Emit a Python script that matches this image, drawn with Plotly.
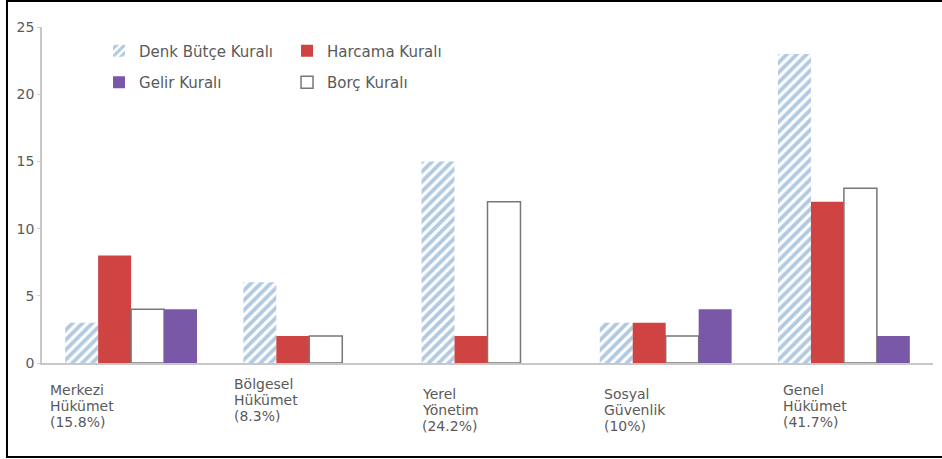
import plotly.graph_objects as go

categories = ["Merkezi", "Bölgesel", "Yerel", "Sosyal", "Genel"]
category_labels = [
    ["Merkezi", "Hükümet", "(15.8%)"],
    ["Bölgesel", "Hükümet", "(8.3%)"],
    ["Yerel", "Yönetim", "(24.2%)"],
    ["Sosyal", "Güvenlik", "(10%)"],
    ["Genel", "Hükümet", "(41.7%)"],
]
denk_butce = [3, 6, 15, 3, 23]
harcama = [8, 2, 2, 3, 12]
borc = [4, 2, 12, 2, 13]
gelir = [4, 0, 0, 4, 2]
y_ticks = [0, 5, 10, 15, 20, 25]

# label placement (layout only)
label_xshift = [-81, -75, -66, -62, -61]
label_yshift = [0, 6, -4, -4, 0]
LINE_GAP = 16

FONT = "DejaVu Sans"
TXT = "#5a5a5a"

fig = go.Figure()
fig.add_trace(go.Bar(
    x=categories, y=denk_butce, name="Denk Bütçe Kuralı",
    marker=dict(color="white", line=dict(width=0),
                pattern=dict(shape="/", fgcolor="#6496c6", bgcolor="white",
                             size=7, solidity=0.55, fillmode="overlay")),
    legend="legend", legendgroup="a", legendrank=1,
))
fig.add_trace(go.Bar(
    x=categories, y=harcama, name="Harcama Kuralı",
    marker=dict(color="#cf4343", line=dict(width=0)),
    legend="legend2", legendgroup="b", legendrank=1,
))
fig.add_trace(go.Bar(
    x=categories, y=borc, name="Borç Kuralı",
    marker=dict(color="white", line=dict(color="#777777", width=1.5)),
    legend="legend2", legendgroup="d", legendrank=2,
))
fig.add_trace(go.Bar(
    x=categories, y=gelir, name="Gelir Kuralı",
    marker=dict(color="#7a58a8", line=dict(width=0)),
    legend="legend", legendgroup="c", legendrank=2,
))

annotations = []
for cat, lines, xs, ys in zip(categories, category_labels, label_xshift, label_yshift):
    for i, line in enumerate(lines):
        annotations.append(dict(
            x=cat, xref="x", y=0, yref="paper", yanchor="middle",
            yshift=-27 + ys - LINE_GAP * i,
            xanchor="left", xshift=xs - 2, align="left", showarrow=False,
            text=line, font=dict(family=FONT, size=14, color=TXT),
        ))

legend_common = dict(
    orientation="v", yanchor="top", xanchor="left",
    font=dict(family=FONT, size=15, color=TXT), bgcolor="rgba(0,0,0,0)",
    tracegroupgap=9, traceorder="grouped",
)

fig.update_layout(
    width=942, height=459,
    margin=dict(l=42, r=9, t=27, b=96),
    paper_bgcolor="white", plot_bgcolor="white",
    barmode="group", bargap=0.26, bargroupgap=0,
    font=dict(family=FONT, size=14, color=TXT),
    showlegend=True,
    legend=dict(x=0.064, y=0.978, **legend_common),
    legend2=dict(x=0.275, y=0.978, **legend_common),
    xaxis=dict(
        range=[-0.5, 4.5], showticklabels=False, showline=True,
        linecolor="#c8c8c8", linewidth=1.5, ticks="",
        showgrid=False, zeroline=False,
    ),
    yaxis=dict(
        range=[0, 25], tickvals=y_ticks, showline=True, linecolor="#c8c8c8",
        linewidth=1.5, ticks="outside", ticklen=3, tickcolor="#d0d0d0",
        showgrid=False, zeroline=False,
        tickfont=dict(family=FONT, size=14, color=TXT),
    ),
    annotations=annotations,
    shapes=[dict(
        type="rect", xref="paper", yref="paper",
        x0=-0.0393, x1=1.04, y0=-0.2798, y1=1.0774,
        line=dict(color="black", width=2), fillcolor="rgba(0,0,0,0)",
    )],
)

fig.write_html("out.html")
